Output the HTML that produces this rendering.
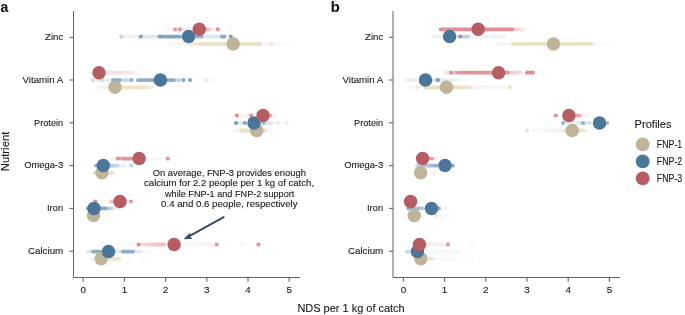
<!DOCTYPE html>
<html><head><meta charset="utf-8"><style>
html,body{margin:0;padding:0;background:#fff;width:685px;height:315px;overflow:hidden}
svg{display:block;will-change:transform}
text{font-family:"Liberation Sans",sans-serif;fill:#161616;stroke:#161616;stroke-width:0.1px}
</style></head><body>
<svg width="685" height="315" viewBox="0 0 685 315">
<defs><linearGradient id="g1" gradientUnits="userSpaceOnUse" x1="187" y1="0" x2="198" y2="0"><stop offset="0" stop-color="#D9C592" stop-opacity="0.3"/><stop offset="1" stop-color="#D9C592" stop-opacity="0.4"/></linearGradient><linearGradient id="g2" gradientUnits="userSpaceOnUse" x1="262" y1="0" x2="272" y2="0"><stop offset="0" stop-color="#BBAAAA" stop-opacity="0.15"/><stop offset="1" stop-color="#BBAAAA" stop-opacity="0.1"/></linearGradient><linearGradient id="g3" gradientUnits="userSpaceOnUse" x1="272" y1="0" x2="300" y2="0"><stop offset="0" stop-color="#BBAAAA" stop-opacity="0.08"/><stop offset="1" stop-color="#BBAAAA" stop-opacity="0"/></linearGradient><linearGradient id="g4" gradientUnits="userSpaceOnUse" x1="195" y1="0" x2="204" y2="0"><stop offset="0" stop-color="#5F8BB2" stop-opacity="0.7"/><stop offset="1" stop-color="#5F8BB2" stop-opacity="0.6"/></linearGradient><linearGradient id="g5" gradientUnits="userSpaceOnUse" x1="233" y1="0" x2="240" y2="0"><stop offset="0" stop-color="#8AB0BC" stop-opacity="0.15"/><stop offset="1" stop-color="#8AB0BC" stop-opacity="0"/></linearGradient><linearGradient id="g6" gradientUnits="userSpaceOnUse" x1="182" y1="0" x2="193" y2="0"><stop offset="0" stop-color="#C99BA0" stop-opacity="0.2"/><stop offset="1" stop-color="#C99BA0" stop-opacity="0.15"/></linearGradient><linearGradient id="g7" gradientUnits="userSpaceOnUse" x1="205" y1="0" x2="215" y2="0"><stop offset="0" stop-color="#DA7178" stop-opacity="0.6"/><stop offset="1" stop-color="#DA7178" stop-opacity="0.05"/></linearGradient><linearGradient id="g8" gradientUnits="userSpaceOnUse" x1="97" y1="0" x2="110" y2="0"><stop offset="0" stop-color="#BBAAAA" stop-opacity="0.12"/><stop offset="1" stop-color="#BBAAAA" stop-opacity="0.15"/></linearGradient><linearGradient id="g9" gradientUnits="userSpaceOnUse" x1="149" y1="0" x2="156" y2="0"><stop offset="0" stop-color="#BBAAAA" stop-opacity="0.3"/><stop offset="1" stop-color="#BBAAAA" stop-opacity="0"/></linearGradient><linearGradient id="g10" gradientUnits="userSpaceOnUse" x1="111" y1="0" x2="122" y2="0"><stop offset="0" stop-color="#5F8BB2" stop-opacity="0.75"/><stop offset="1" stop-color="#5F8BB2" stop-opacity="0.7"/></linearGradient><linearGradient id="g11" gradientUnits="userSpaceOnUse" x1="104" y1="0" x2="133" y2="0"><stop offset="0" stop-color="#C99BA0" stop-opacity="0.3"/><stop offset="1" stop-color="#C99BA0" stop-opacity="0.25"/></linearGradient><linearGradient id="g12" gradientUnits="userSpaceOnUse" x1="132" y1="0" x2="141" y2="0"><stop offset="0" stop-color="#C99BA0" stop-opacity="0.2"/><stop offset="1" stop-color="#C99BA0" stop-opacity="0"/></linearGradient><linearGradient id="g13" gradientUnits="userSpaceOnUse" x1="232" y1="0" x2="238" y2="0"><stop offset="0" stop-color="#BBAAAA" stop-opacity="0.1"/><stop offset="1" stop-color="#BBAAAA" stop-opacity="0.15"/></linearGradient><linearGradient id="g14" gradientUnits="userSpaceOnUse" x1="267" y1="0" x2="278" y2="0"><stop offset="0" stop-color="#BBAAAA" stop-opacity="0.15"/><stop offset="1" stop-color="#BBAAAA" stop-opacity="0"/></linearGradient><linearGradient id="g15" gradientUnits="userSpaceOnUse" x1="264" y1="0" x2="274" y2="0"><stop offset="0" stop-color="#8AB0BC" stop-opacity="0.3"/><stop offset="1" stop-color="#8AB0BC" stop-opacity="0.25"/></linearGradient><linearGradient id="g16" gradientUnits="userSpaceOnUse" x1="271" y1="0" x2="281" y2="0"><stop offset="0" stop-color="#C99BA0" stop-opacity="0.15"/><stop offset="1" stop-color="#C99BA0" stop-opacity="0"/></linearGradient><linearGradient id="g17" gradientUnits="userSpaceOnUse" x1="94" y1="0" x2="120" y2="0"><stop offset="0" stop-color="#5F8BB2" stop-opacity="0.75"/><stop offset="1" stop-color="#5F8BB2" stop-opacity="0.3"/></linearGradient><linearGradient id="g18" gradientUnits="userSpaceOnUse" x1="120" y1="0" x2="127" y2="0"><stop offset="0" stop-color="#8AB0BC" stop-opacity="0.2"/><stop offset="1" stop-color="#8AB0BC" stop-opacity="0.15"/></linearGradient><linearGradient id="g19" gradientUnits="userSpaceOnUse" x1="109" y1="0" x2="117" y2="0"><stop offset="0" stop-color="#C99BA0" stop-opacity="0.1"/><stop offset="1" stop-color="#C99BA0" stop-opacity="0.15"/></linearGradient><linearGradient id="g20" gradientUnits="userSpaceOnUse" x1="86" y1="0" x2="108" y2="0"><stop offset="0" stop-color="#5F8BB2" stop-opacity="0.8"/><stop offset="1" stop-color="#5F8BB2" stop-opacity="0.75"/></linearGradient><linearGradient id="g21" gradientUnits="userSpaceOnUse" x1="108" y1="0" x2="115" y2="0"><stop offset="0" stop-color="#5F8BB2" stop-opacity="0.6"/><stop offset="1" stop-color="#5F8BB2" stop-opacity="0.15"/></linearGradient><linearGradient id="g22" gradientUnits="userSpaceOnUse" x1="100" y1="0" x2="113" y2="0"><stop offset="0" stop-color="#C99BA0" stop-opacity="0.06"/><stop offset="1" stop-color="#C99BA0" stop-opacity="0.15"/></linearGradient><linearGradient id="g23" gradientUnits="userSpaceOnUse" x1="90" y1="0" x2="94" y2="0"><stop offset="0" stop-color="#BBAAAA" stop-opacity="0.15"/><stop offset="1" stop-color="#BBAAAA" stop-opacity="0.2"/></linearGradient><linearGradient id="g24" gradientUnits="userSpaceOnUse" x1="91" y1="0" x2="102" y2="0"><stop offset="0" stop-color="#5F8BB2" stop-opacity="0.7"/><stop offset="1" stop-color="#5F8BB2" stop-opacity="0.75"/></linearGradient><linearGradient id="g25" gradientUnits="userSpaceOnUse" x1="134" y1="0" x2="143" y2="0"><stop offset="0" stop-color="#8AB0BC" stop-opacity="0.3"/><stop offset="1" stop-color="#8AB0BC" stop-opacity="0.2"/></linearGradient><linearGradient id="g26" gradientUnits="userSpaceOnUse" x1="143" y1="0" x2="153" y2="0"><stop offset="0" stop-color="#8AB0BC" stop-opacity="0.1"/><stop offset="1" stop-color="#8AB0BC" stop-opacity="0"/></linearGradient><linearGradient id="g27" gradientUnits="userSpaceOnUse" x1="141" y1="0" x2="166" y2="0"><stop offset="0" stop-color="#DA7178" stop-opacity="0.25"/><stop offset="1" stop-color="#DA7178" stop-opacity="0.5"/></linearGradient><linearGradient id="g28" gradientUnits="userSpaceOnUse" x1="182" y1="0" x2="215" y2="0"><stop offset="0" stop-color="#C99BA0" stop-opacity="0.06"/><stop offset="1" stop-color="#C99BA0" stop-opacity="0.15"/></linearGradient><linearGradient id="g29" gradientUnits="userSpaceOnUse" x1="496" y1="0" x2="510" y2="0"><stop offset="0" stop-color="#BBAAAA" stop-opacity="0.1"/><stop offset="1" stop-color="#BBAAAA" stop-opacity="0.15"/></linearGradient><linearGradient id="g30" gradientUnits="userSpaceOnUse" x1="593" y1="0" x2="615" y2="0"><stop offset="0" stop-color="#BBAAAA" stop-opacity="0.12"/><stop offset="1" stop-color="#BBAAAA" stop-opacity="0"/></linearGradient><linearGradient id="g31" gradientUnits="userSpaceOnUse" x1="462" y1="0" x2="470" y2="0"><stop offset="0" stop-color="#5F8BB2" stop-opacity="0.35"/><stop offset="1" stop-color="#5F8BB2" stop-opacity="0.3"/></linearGradient><linearGradient id="g32" gradientUnits="userSpaceOnUse" x1="514" y1="0" x2="529" y2="0"><stop offset="0" stop-color="#DA7178" stop-opacity="0.4"/><stop offset="1" stop-color="#DA7178" stop-opacity="0"/></linearGradient><linearGradient id="g33" gradientUnits="userSpaceOnUse" x1="423.5" y1="0" x2="471.5" y2="0"><stop offset="0" stop-color="#D9C592" stop-opacity="0.55"/><stop offset="1" stop-color="#D9C592" stop-opacity="0.5"/></linearGradient><linearGradient id="g34" gradientUnits="userSpaceOnUse" x1="471.5" y1="0" x2="506" y2="0"><stop offset="0" stop-color="#BBAAAA" stop-opacity="0.15"/><stop offset="1" stop-color="#BBAAAA" stop-opacity="0.1"/></linearGradient><linearGradient id="g35" gradientUnits="userSpaceOnUse" x1="432" y1="0" x2="459" y2="0"><stop offset="0" stop-color="#8AB0BC" stop-opacity="0.3"/><stop offset="1" stop-color="#8AB0BC" stop-opacity="0.15"/></linearGradient><linearGradient id="g36" gradientUnits="userSpaceOnUse" x1="459" y1="0" x2="474" y2="0"><stop offset="0" stop-color="#8AB0BC" stop-opacity="0.08"/><stop offset="1" stop-color="#8AB0BC" stop-opacity="0"/></linearGradient><linearGradient id="g37" gradientUnits="userSpaceOnUse" x1="452" y1="0" x2="458" y2="0"><stop offset="0" stop-color="#DA7178" stop-opacity="0.3"/><stop offset="1" stop-color="#DA7178" stop-opacity="0.75"/></linearGradient><linearGradient id="g38" gradientUnits="userSpaceOnUse" x1="510" y1="0" x2="523" y2="0"><stop offset="0" stop-color="#DA7178" stop-opacity="0.4"/><stop offset="1" stop-color="#DA7178" stop-opacity="0.2"/></linearGradient><linearGradient id="g39" gradientUnits="userSpaceOnUse" x1="532" y1="0" x2="563" y2="0"><stop offset="0" stop-color="#BBAAAA" stop-opacity="0.08"/><stop offset="1" stop-color="#BBAAAA" stop-opacity="0.15"/></linearGradient><linearGradient id="g40" gradientUnits="userSpaceOnUse" x1="586" y1="0" x2="590" y2="0"><stop offset="0" stop-color="#BBAAAA" stop-opacity="0.2"/><stop offset="1" stop-color="#BBAAAA" stop-opacity="0"/></linearGradient><linearGradient id="g41" gradientUnits="userSpaceOnUse" x1="563" y1="0" x2="590" y2="0"><stop offset="0" stop-color="#8AB0BC" stop-opacity="0.2"/><stop offset="1" stop-color="#8AB0BC" stop-opacity="0.25"/></linearGradient><linearGradient id="g42" gradientUnits="userSpaceOnUse" x1="575" y1="0" x2="581.5" y2="0"><stop offset="0" stop-color="#DA7178" stop-opacity="0.7"/><stop offset="1" stop-color="#DA7178" stop-opacity="0.6"/></linearGradient><linearGradient id="g43" gradientUnits="userSpaceOnUse" x1="581.5" y1="0" x2="592" y2="0"><stop offset="0" stop-color="#C99BA0" stop-opacity="0.2"/><stop offset="1" stop-color="#C99BA0" stop-opacity="0"/></linearGradient><linearGradient id="g44" gradientUnits="userSpaceOnUse" x1="451" y1="0" x2="460" y2="0"><stop offset="0" stop-color="#BBAAAA" stop-opacity="0.07"/><stop offset="1" stop-color="#BBAAAA" stop-opacity="0.05"/></linearGradient><linearGradient id="g45" gradientUnits="userSpaceOnUse" x1="415" y1="0" x2="439" y2="0"><stop offset="0" stop-color="#5F8BB2" stop-opacity="0.35"/><stop offset="1" stop-color="#5F8BB2" stop-opacity="0.7"/></linearGradient><linearGradient id="g46" gradientUnits="userSpaceOnUse" x1="429" y1="0" x2="434.4" y2="0"><stop offset="0" stop-color="#DA7178" stop-opacity="0.75"/><stop offset="1" stop-color="#DA7178" stop-opacity="0.6"/></linearGradient><linearGradient id="g47" gradientUnits="userSpaceOnUse" x1="434.4" y1="0" x2="440" y2="0"><stop offset="0" stop-color="#C99BA0" stop-opacity="0.25"/><stop offset="1" stop-color="#C99BA0" stop-opacity="0"/></linearGradient><linearGradient id="g48" gradientUnits="userSpaceOnUse" x1="421" y1="0" x2="428" y2="0"><stop offset="0" stop-color="#BBAAAA" stop-opacity="0.12"/><stop offset="1" stop-color="#BBAAAA" stop-opacity="0.1"/></linearGradient><linearGradient id="g49" gradientUnits="userSpaceOnUse" x1="439" y1="0" x2="452" y2="0"><stop offset="0" stop-color="#BBAAAA" stop-opacity="0.08"/><stop offset="1" stop-color="#BBAAAA" stop-opacity="0.05"/></linearGradient><linearGradient id="g50" gradientUnits="userSpaceOnUse" x1="406.4" y1="0" x2="424.8" y2="0"><stop offset="0" stop-color="#5F8BB2" stop-opacity="0.75"/><stop offset="1" stop-color="#5F8BB2" stop-opacity="0.4"/></linearGradient><linearGradient id="g51" gradientUnits="userSpaceOnUse" x1="417" y1="0" x2="428" y2="0"><stop offset="0" stop-color="#C99BA0" stop-opacity="0.15"/><stop offset="1" stop-color="#C99BA0" stop-opacity="0.05"/></linearGradient><linearGradient id="g52" gradientUnits="userSpaceOnUse" x1="427.8" y1="0" x2="435" y2="0"><stop offset="0" stop-color="#D9C592" stop-opacity="0.45"/><stop offset="1" stop-color="#D9C592" stop-opacity="0.4"/></linearGradient><linearGradient id="g53" gradientUnits="userSpaceOnUse" x1="435" y1="0" x2="475" y2="0"><stop offset="0" stop-color="#BBAAAA" stop-opacity="0.08"/><stop offset="1" stop-color="#BBAAAA" stop-opacity="0.05"/></linearGradient><linearGradient id="g54" gradientUnits="userSpaceOnUse" x1="425.5" y1="0" x2="461" y2="0"><stop offset="0" stop-color="#8AB0BC" stop-opacity="0.1"/><stop offset="1" stop-color="#8AB0BC" stop-opacity="0.08"/></linearGradient><linearGradient id="g55" gradientUnits="userSpaceOnUse" x1="426" y1="0" x2="446" y2="0"><stop offset="0" stop-color="#C99BA0" stop-opacity="0.2"/><stop offset="1" stop-color="#C99BA0" stop-opacity="0.15"/></linearGradient></defs>
<rect x="167" y="42.00" width="20.00" height="3.8" rx="1.9" fill="#BBAAAA" fill-opacity="0.1"/><rect x="187" y="42.00" width="11.00" height="3.8" rx="1.9" fill="url(#g1)"/><rect x="198" y="42.00" width="64.00" height="3.8" rx="1.9" fill="#D9C592" fill-opacity="0.55"/><rect x="262" y="42.00" width="10.00" height="3.8" rx="1.9" fill="url(#g2)"/><circle cx="271.8" cy="43.9" r="2.1" fill="#BBAAAA" fill-opacity="0.2"/><rect x="272" y="42.00" width="28.00" height="3.8" rx="1.9" fill="url(#g3)"/><circle cx="121.2" cy="36.6" r="2.1" fill="#5F8BB2" fill-opacity="0.35"/><rect x="121" y="34.70" width="19.00" height="3.8" rx="1.9" fill="#8AB0BC" fill-opacity="0.15"/><circle cx="140.7" cy="36.6" r="2.1" fill="#5F8BB2" fill-opacity="0.8"/><rect x="141" y="34.70" width="18.00" height="3.8" rx="1.9" fill="#8AB0BC" fill-opacity="0.3"/><circle cx="159.7" cy="36.6" r="2.1" fill="#5F8BB2" fill-opacity="0.8"/><rect x="160" y="34.70" width="22.00" height="3.8" rx="1.9" fill="#5F8BB2" fill-opacity="0.75"/><rect x="195" y="34.70" width="9.00" height="3.8" rx="1.9" fill="url(#g4)"/><rect x="204" y="34.70" width="15.00" height="3.8" rx="1.9" fill="#8AB0BC" fill-opacity="0.3"/><rect x="219.6" y="34.70" width="7.00" height="3.8" rx="1.9" fill="#5F8BB2" fill-opacity="0.7"/><circle cx="230.7" cy="36.6" r="2.1" fill="#5F8BB2" fill-opacity="0.8"/><rect x="233" y="34.70" width="7.00" height="3.8" rx="1.9" fill="url(#g5)"/><rect x="164" y="27.40" width="9.00" height="3.8" rx="1.9" fill="#C99BA0" fill-opacity="0.1"/><circle cx="175.2" cy="29.3" r="2.1" fill="#DA7178" fill-opacity="0.75"/><circle cx="180" cy="29.3" r="2.1" fill="#DA7178" fill-opacity="0.75"/><rect x="182" y="27.40" width="11.00" height="3.8" rx="1.9" fill="url(#g6)"/><rect x="205" y="27.40" width="10.00" height="3.8" rx="1.9" fill="url(#g7)"/><circle cx="217.8" cy="29.3" r="2.1" fill="#DA7178" fill-opacity="0.75"/><circle cx="230" cy="29.3" r="2.1" fill="#C99BA0" fill-opacity="0.1"/><rect x="97" y="85.40" width="13.00" height="3.8" rx="1.9" fill="url(#g8)"/><rect x="121" y="85.40" width="28.00" height="3.8" rx="1.9" fill="#D9C592" fill-opacity="0.5"/><rect x="149" y="85.40" width="7.00" height="3.8" rx="1.9" fill="url(#g9)"/><rect x="92" y="78.20" width="19.00" height="3.8" rx="1.9" fill="#8AB0BC" fill-opacity="0.2"/><circle cx="92.5" cy="80.1" r="2.1" fill="#8AB0BC" fill-opacity="0.3"/><circle cx="102.4" cy="80.1" r="2.1" fill="#8AB0BC" fill-opacity="0.3"/><rect x="111" y="78.20" width="11.00" height="3.8" rx="1.9" fill="url(#g10)"/><rect x="122" y="78.20" width="8.00" height="3.8" rx="1.9" fill="#5F8BB2" fill-opacity="0.35"/><circle cx="131.5" cy="80.1" r="2.1" fill="#5F8BB2" fill-opacity="0.7"/><rect x="136" y="78.20" width="40.00" height="3.8" rx="1.9" fill="#5F8BB2" fill-opacity="0.7"/><rect x="176" y="78.20" width="5.00" height="3.8" rx="1.9" fill="#5F8BB2" fill-opacity="0.4"/><circle cx="183.4" cy="80.1" r="2.1" fill="#5F8BB2" fill-opacity="0.75"/><circle cx="190" cy="80.1" r="2.1" fill="#5F8BB2" fill-opacity="0.75"/><circle cx="206.4" cy="80.1" r="2.1" fill="#8AB0BC" fill-opacity="0.2"/><circle cx="213.4" cy="80.1" r="2.1" fill="#8AB0BC" fill-opacity="0.1"/><rect x="104" y="70.80" width="29.00" height="3.8" rx="1.9" fill="url(#g11)"/><rect x="132" y="70.80" width="9.00" height="3.8" rx="1.9" fill="url(#g12)"/><rect x="232" y="128.60" width="6.00" height="3.8" rx="1.9" fill="url(#g13)"/><rect x="238.4" y="128.60" width="28.60" height="3.8" rx="1.9" fill="#D9C592" fill-opacity="0.5"/><rect x="267" y="128.60" width="11.00" height="3.8" rx="1.9" fill="url(#g14)"/><circle cx="236.1" cy="123.0" r="2.1" fill="#5F8BB2" fill-opacity="0.85"/><circle cx="240.7" cy="123.0" r="2.1" fill="#8AB0BC" fill-opacity="0.3"/><circle cx="244.8" cy="123.0" r="2.1" fill="#5F8BB2" fill-opacity="0.8"/><circle cx="263.2" cy="123.0" r="2.1" fill="#5F8BB2" fill-opacity="0.6"/><rect x="264" y="121.10" width="10.00" height="3.8" rx="1.9" fill="url(#g15)"/><circle cx="277.8" cy="123.0" r="2.1" fill="#8AB0BC" fill-opacity="0.3"/><circle cx="287" cy="123.0" r="2.1" fill="#8AB0BC" fill-opacity="0.2"/><circle cx="236.9" cy="115.6" r="2.1" fill="#DA7178" fill-opacity="0.8"/><rect x="238" y="113.70" width="12.00" height="3.8" rx="1.9" fill="#C99BA0" fill-opacity="0.1"/><circle cx="251.1" cy="115.6" r="2.1" fill="#DA7178" fill-opacity="0.8"/><circle cx="270.2" cy="115.6" r="2.1" fill="#DA7178" fill-opacity="0.6"/><rect x="271" y="113.70" width="10.00" height="3.8" rx="1.9" fill="url(#g16)"/><rect x="92.7" y="170.90" width="21.60" height="3.8" rx="1.9" fill="#D9C592" fill-opacity="0.5"/><rect x="94" y="163.70" width="26.00" height="3.8" rx="1.9" fill="url(#g17)"/><rect x="120" y="163.70" width="7.00" height="3.8" rx="1.9" fill="url(#g18)"/><circle cx="131.2" cy="165.6" r="2.1" fill="#5F8BB2" fill-opacity="0.35"/><rect x="109" y="156.70" width="8.00" height="3.8" rx="1.9" fill="url(#g19)"/><circle cx="118" cy="158.6" r="2.1" fill="#DA7178" fill-opacity="0.8"/><rect x="120" y="156.70" width="13.00" height="3.8" rx="1.9" fill="#DA7178" fill-opacity="0.75"/><rect x="150" y="156.70" width="12.00" height="3.8" rx="1.9" fill="#C99BA0" fill-opacity="0.1"/><circle cx="167.8" cy="158.6" r="2.1" fill="#DA7178" fill-opacity="0.75"/><circle cx="107.2" cy="215.6" r="2.1" fill="#BBAAAA" fill-opacity="0.1"/><rect x="86" y="206.50" width="22.00" height="3.8" rx="1.9" fill="url(#g20)"/><rect x="108" y="206.50" width="7.00" height="3.8" rx="1.9" fill="url(#g21)"/><circle cx="117.7" cy="208.4" r="2.1" fill="#8AB0BC" fill-opacity="0.2"/><circle cx="95.4" cy="201.5" r="2.1" fill="#DA7178" fill-opacity="0.8"/><rect x="100" y="199.60" width="13.00" height="3.8" rx="1.9" fill="url(#g22)"/><circle cx="111.8" cy="201.5" r="2.1" fill="#DA7178" fill-opacity="0.4"/><circle cx="130.8" cy="201.5" r="2.1" fill="#DA7178" fill-opacity="0.7"/><rect x="90" y="256.90" width="4.00" height="3.8" rx="1.9" fill="url(#g23)"/><rect x="108" y="256.90" width="13.60" height="3.8" rx="1.9" fill="#D9C592" fill-opacity="0.5"/><circle cx="129.6" cy="258.8" r="2.1" fill="#BBAAAA" fill-opacity="0.1"/><circle cx="143.5" cy="258.8" r="2.1" fill="#BBAAAA" fill-opacity="0.1"/><rect x="85.8" y="249.70" width="6.20" height="3.8" rx="1.9" fill="#8AB0BC" fill-opacity="0.3"/><rect x="91" y="249.70" width="11.00" height="3.8" rx="1.9" fill="url(#g24)"/><rect x="114" y="249.70" width="9.00" height="3.8" rx="1.9" fill="#8AB0BC" fill-opacity="0.3"/><rect x="121" y="249.70" width="14.00" height="3.8" rx="1.9" fill="#5F8BB2" fill-opacity="0.7"/><rect x="134" y="249.70" width="9.00" height="3.8" rx="1.9" fill="url(#g25)"/><rect x="143" y="249.70" width="10.00" height="3.8" rx="1.9" fill="url(#g26)"/><rect x="128" y="242.60" width="8.00" height="3.8" rx="1.9" fill="#C99BA0" fill-opacity="0.1"/><circle cx="138.7" cy="244.5" r="2.1" fill="#DA7178" fill-opacity="0.8"/><rect x="141" y="242.60" width="25.00" height="3.8" rx="1.9" fill="url(#g27)"/><rect x="182" y="242.60" width="33.00" height="3.8" rx="1.9" fill="url(#g28)"/><circle cx="216.8" cy="244.5" r="2.1" fill="#DA7178" fill-opacity="0.75"/><circle cx="242" cy="244.5" r="2.1" fill="#C99BA0" fill-opacity="0.1"/><circle cx="258.4" cy="244.5" r="2.1" fill="#DA7178" fill-opacity="0.75"/><rect x="496" y="42.00" width="14.00" height="3.8" rx="1.9" fill="url(#g29)"/><rect x="510.7" y="42.00" width="82.70" height="3.8" rx="1.9" fill="#D9C592" fill-opacity="0.55"/><rect x="593" y="42.00" width="22.00" height="3.8" rx="1.9" fill="url(#g30)"/><rect x="430.7" y="34.70" width="75.30" height="3.8" rx="1.9" fill="#8AB0BC" fill-opacity="0.15"/><circle cx="460.3" cy="36.6" r="2.1" fill="#5F8BB2" fill-opacity="0.8"/><rect x="462" y="34.70" width="8.00" height="3.8" rx="1.9" fill="url(#g31)"/><rect x="438.8" y="27.40" width="75.60" height="3.8" rx="1.9" fill="#DA7178" fill-opacity="0.8"/><rect x="514" y="27.40" width="15.00" height="3.8" rx="1.9" fill="url(#g32)"/><rect x="408" y="85.40" width="9.00" height="3.8" rx="1.9" fill="#BBAAAA" fill-opacity="0.1"/><circle cx="417.4" cy="87.3" r="2.1" fill="#BBAAAA" fill-opacity="0.25"/><rect x="423.5" y="85.40" width="48.00" height="3.8" rx="1.9" fill="url(#g33)"/><rect x="471.5" y="85.40" width="34.50" height="3.8" rx="1.9" fill="url(#g34)"/><circle cx="509.7" cy="87.3" r="2.1" fill="#D9C592" fill-opacity="0.5"/><rect x="405" y="78.20" width="13.00" height="3.8" rx="1.9" fill="#8AB0BC" fill-opacity="0.2"/><rect x="432" y="78.20" width="27.00" height="3.8" rx="1.9" fill="url(#g35)"/><rect x="459" y="78.20" width="15.00" height="3.8" rx="1.9" fill="url(#g36)"/><circle cx="437.8" cy="80.1" r="2.1" fill="#5F8BB2" fill-opacity="0.8"/><circle cx="446.6" cy="72.7" r="2.1" fill="#C99BA0" fill-opacity="0.3"/><circle cx="451" cy="72.7" r="2.1" fill="#DA7178" fill-opacity="0.8"/><rect x="452" y="70.80" width="6.00" height="3.8" rx="1.9" fill="url(#g37)"/><rect x="457" y="70.80" width="53.00" height="3.8" rx="1.9" fill="#DA7178" fill-opacity="0.75"/><rect x="510" y="70.80" width="13.00" height="3.8" rx="1.9" fill="url(#g38)"/><rect x="525" y="70.80" width="10.00" height="3.8" rx="1.9" fill="#DA7178" fill-opacity="0.8"/><circle cx="526.9" cy="130.5" r="2.1" fill="#D9C592" fill-opacity="0.5"/><rect x="532" y="128.60" width="31.00" height="3.8" rx="1.9" fill="url(#g39)"/><rect x="563" y="128.60" width="23.00" height="3.8" rx="1.9" fill="#D9C592" fill-opacity="0.45"/><rect x="586" y="128.60" width="4.00" height="3.8" rx="1.9" fill="url(#g40)"/><rect x="563" y="121.10" width="27.00" height="3.8" rx="1.9" fill="url(#g41)"/><circle cx="563" cy="123.0" r="2.1" fill="#5F8BB2" fill-opacity="0.6"/><circle cx="583" cy="123.0" r="2.1" fill="#5F8BB2" fill-opacity="0.6"/><circle cx="590.3" cy="123.0" r="2.1" fill="#8AB0BC" fill-opacity="0.3"/><circle cx="607.2" cy="123.0" r="2.1" fill="#5F8BB2" fill-opacity="0.6"/><circle cx="555.8" cy="115.6" r="2.1" fill="#DA7178" fill-opacity="0.75"/><rect x="575" y="113.70" width="6.50" height="3.8" rx="1.9" fill="url(#g42)"/><rect x="581.5" y="113.70" width="10.50" height="3.8" rx="1.9" fill="url(#g43)"/><rect x="428" y="170.90" width="11.00" height="3.8" rx="1.9" fill="#BBAAAA" fill-opacity="0.1"/><rect x="451" y="170.90" width="9.00" height="3.8" rx="1.9" fill="url(#g44)"/><rect x="415" y="163.70" width="24.00" height="3.8" rx="1.9" fill="url(#g45)"/><circle cx="452.8" cy="165.6" r="2.1" fill="#5F8BB2" fill-opacity="0.7"/><rect x="429" y="156.70" width="5.40" height="3.8" rx="1.9" fill="url(#g46)"/><rect x="434.4" y="156.70" width="5.60" height="3.8" rx="1.9" fill="url(#g47)"/><rect x="421" y="213.70" width="7.00" height="3.8" rx="1.9" fill="url(#g48)"/><circle cx="435.6" cy="215.6" r="2.1" fill="#D9C592" fill-opacity="0.4"/><rect x="439" y="213.70" width="13.00" height="3.8" rx="1.9" fill="url(#g49)"/><rect x="406.4" y="206.50" width="18.40" height="3.8" rx="1.9" fill="url(#g50)"/><circle cx="438.8" cy="208.4" r="2.1" fill="#5F8BB2" fill-opacity="0.7"/><circle cx="445.8" cy="208.4" r="2.1" fill="#8AB0BC" fill-opacity="0.15"/><rect x="417" y="199.60" width="11.00" height="3.8" rx="1.9" fill="url(#g51)"/><rect x="427.8" y="256.90" width="7.20" height="3.8" rx="1.9" fill="url(#g52)"/><rect x="435" y="256.90" width="40.00" height="3.8" rx="1.9" fill="url(#g53)"/><rect x="405" y="249.70" width="6.00" height="3.8" rx="1.9" fill="#5F8BB2" fill-opacity="0.35"/><rect x="425.5" y="249.70" width="35.50" height="3.8" rx="1.9" fill="url(#g54)"/><rect x="426" y="242.60" width="20.00" height="3.8" rx="1.9" fill="url(#g55)"/><circle cx="448" cy="244.5" r="2.1" fill="#DA7178" fill-opacity="0.75"/><circle cx="472.5" cy="244.5" r="2.1" fill="#C99BA0" fill-opacity="0.1"/><circle cx="233.2" cy="43.9" r="6.75" fill="#BFB497"/><circle cx="188.6" cy="36.6" r="6.75" fill="#4B7599"/><circle cx="199.3" cy="29.3" r="6.75" fill="#B65C63"/><circle cx="115" cy="87.3" r="6.75" fill="#BFB497"/><circle cx="160.4" cy="80.1" r="6.75" fill="#4B7599"/><circle cx="99" cy="72.7" r="6.75" fill="#B65C63"/><circle cx="256.7" cy="130.5" r="6.75" fill="#BFB497"/><circle cx="254" cy="123.0" r="6.75" fill="#4B7599"/><circle cx="263" cy="115.6" r="6.75" fill="#B65C63"/><circle cx="101.9" cy="172.8" r="6.75" fill="#BFB497"/><circle cx="103.3" cy="165.6" r="6.75" fill="#4B7599"/><circle cx="139.1" cy="158.6" r="6.75" fill="#B65C63"/><circle cx="93.5" cy="215.6" r="6.75" fill="#BFB497"/><circle cx="94" cy="208.4" r="6.75" fill="#4B7599"/><circle cx="120" cy="201.5" r="6.75" fill="#B65C63"/><circle cx="101.2" cy="258.8" r="6.75" fill="#BFB497"/><circle cx="108.5" cy="251.6" r="6.75" fill="#4B7599"/><circle cx="174.1" cy="244.5" r="6.75" fill="#B65C63"/><circle cx="553.5" cy="43.9" r="6.75" fill="#BFB497"/><circle cx="449.6" cy="36.6" r="6.75" fill="#4B7599"/><circle cx="478.2" cy="29.3" r="6.75" fill="#B65C63"/><circle cx="446.5" cy="87.3" r="6.75" fill="#BFB497"/><circle cx="425.5" cy="80.1" r="6.75" fill="#4B7599"/><circle cx="498.6" cy="72.7" r="6.75" fill="#B65C63"/><circle cx="572.2" cy="130.5" r="6.75" fill="#BFB497"/><circle cx="599.5" cy="123.0" r="6.75" fill="#4B7599"/><circle cx="568.9" cy="115.6" r="6.75" fill="#B65C63"/><circle cx="420.6" cy="172.8" r="6.75" fill="#BFB497"/><circle cx="445" cy="165.6" r="6.75" fill="#4B7599"/><circle cx="422.6" cy="158.6" r="6.75" fill="#B65C63"/><circle cx="414.2" cy="215.6" r="6.75" fill="#BFB497"/><circle cx="431.5" cy="208.4" r="6.75" fill="#4B7599"/><circle cx="410.6" cy="201.5" r="6.75" fill="#B65C63"/><circle cx="420.9" cy="258.8" r="6.75" fill="#BFB497"/><circle cx="417.4" cy="251.6" r="6.75" fill="#4B7599"/><circle cx="419.5" cy="244.5" r="6.75" fill="#B65C63"/>
<path d="M73.5 11V277.5H300" fill="none" stroke="#626262" stroke-width="1.0"/><path d="M69.5 37.3H73.5" stroke="#626262" stroke-width="1.1"/><text x="45.0" y="40.1" font-size="9.8" textLength="18.2" lengthAdjust="spacingAndGlyphs">Zinc</text><path d="M69.5 80.0H73.5" stroke="#626262" stroke-width="1.1"/><text x="22.6" y="82.8" font-size="9.8" textLength="40.6" lengthAdjust="spacingAndGlyphs">Vitamin A</text><path d="M69.5 122.8H73.5" stroke="#626262" stroke-width="1.1"/><text x="34.0" y="125.6" font-size="9.8" textLength="29.2" lengthAdjust="spacingAndGlyphs">Protein</text><path d="M69.5 165.6H73.5" stroke="#626262" stroke-width="1.1"/><text x="24.2" y="168.4" font-size="9.8" textLength="39.0" lengthAdjust="spacingAndGlyphs">Omega-3</text><path d="M69.5 208.4H73.5" stroke="#626262" stroke-width="1.1"/><text x="47.0" y="211.2" font-size="9.8" textLength="16.2" lengthAdjust="spacingAndGlyphs">Iron</text><path d="M69.5 251.2H73.5" stroke="#626262" stroke-width="1.1"/><text x="28.0" y="254.0" font-size="9.8" textLength="35.2" lengthAdjust="spacingAndGlyphs">Calcium</text><path d="M83.2 277.5V281.7" stroke="#626262" stroke-width="1.1"/><text x="83.2" y="293.2" text-anchor="middle" font-size="9.9">0</text><path d="M124.4 277.5V281.7" stroke="#626262" stroke-width="1.1"/><text x="124.4" y="293.2" text-anchor="middle" font-size="9.9">1</text><path d="M165.6 277.5V281.7" stroke="#626262" stroke-width="1.1"/><text x="165.6" y="293.2" text-anchor="middle" font-size="9.9">2</text><path d="M206.8 277.5V281.7" stroke="#626262" stroke-width="1.1"/><text x="206.8" y="293.2" text-anchor="middle" font-size="9.9">3</text><path d="M248.0 277.5V281.7" stroke="#626262" stroke-width="1.1"/><text x="248.0" y="293.2" text-anchor="middle" font-size="9.9">4</text><path d="M289.2 277.5V281.7" stroke="#626262" stroke-width="1.1"/><text x="289.2" y="293.2" text-anchor="middle" font-size="9.9">5</text><path d="M393.0 11V277.5H620" fill="none" stroke="#626262" stroke-width="1.0"/><path d="M389.0 37.3H393.0" stroke="#626262" stroke-width="1.1"/><text x="365.0" y="40.1" font-size="9.8" textLength="18.2" lengthAdjust="spacingAndGlyphs">Zinc</text><path d="M389.0 80.0H393.0" stroke="#626262" stroke-width="1.1"/><text x="342.6" y="82.8" font-size="9.8" textLength="40.6" lengthAdjust="spacingAndGlyphs">Vitamin A</text><path d="M389.0 122.8H393.0" stroke="#626262" stroke-width="1.1"/><text x="354.0" y="125.6" font-size="9.8" textLength="29.2" lengthAdjust="spacingAndGlyphs">Protein</text><path d="M389.0 165.6H393.0" stroke="#626262" stroke-width="1.1"/><text x="344.2" y="168.4" font-size="9.8" textLength="39.0" lengthAdjust="spacingAndGlyphs">Omega-3</text><path d="M389.0 208.4H393.0" stroke="#626262" stroke-width="1.1"/><text x="367.0" y="211.2" font-size="9.8" textLength="16.2" lengthAdjust="spacingAndGlyphs">Iron</text><path d="M389.0 251.2H393.0" stroke="#626262" stroke-width="1.1"/><text x="348.0" y="254.0" font-size="9.8" textLength="35.2" lengthAdjust="spacingAndGlyphs">Calcium</text><path d="M403.4 277.5V281.7" stroke="#626262" stroke-width="1.1"/><text x="403.4" y="293.2" text-anchor="middle" font-size="9.9">0</text><path d="M444.6 277.5V281.7" stroke="#626262" stroke-width="1.1"/><text x="444.6" y="293.2" text-anchor="middle" font-size="9.9">1</text><path d="M485.8 277.5V281.7" stroke="#626262" stroke-width="1.1"/><text x="485.8" y="293.2" text-anchor="middle" font-size="9.9">2</text><path d="M527.0 277.5V281.7" stroke="#626262" stroke-width="1.1"/><text x="527.0" y="293.2" text-anchor="middle" font-size="9.9">3</text><path d="M568.2 277.5V281.7" stroke="#626262" stroke-width="1.1"/><text x="568.2" y="293.2" text-anchor="middle" font-size="9.9">4</text><path d="M609.4 277.5V281.7" stroke="#626262" stroke-width="1.1"/><text x="609.4" y="293.2" text-anchor="middle" font-size="9.9">5</text>

<text x="0.4" y="11.5" font-size="14" font-weight="bold" fill="#000" stroke="#000" stroke-width="0.8">a</text>
<text x="330.8" y="11.6" font-size="14" font-weight="bold" fill="#000" stroke="#000" stroke-width="0.6" textLength="9" lengthAdjust="spacingAndGlyphs">b</text>
<text x="297.4" y="312.4" font-size="11" textLength="107.3" lengthAdjust="spacingAndGlyphs">NDS per 1 kg of catch</text>
<text transform="translate(8.7,171.3) rotate(-90)" x="0" y="0" font-size="10.3" textLength="39.7" lengthAdjust="spacingAndGlyphs">Nutrient</text>
<text x="634.6" y="128.3" font-size="11.5" textLength="36.9" lengthAdjust="spacingAndGlyphs">Profiles</text>
<circle cx="642.7" cy="144.3" r="6.9" fill="#BFB497"/>
<circle cx="642.7" cy="161.4" r="6.9" fill="#4B7599"/>
<circle cx="642.7" cy="178.4" r="6.9" fill="#B65C63"/>
<text x="656.8" y="148.3" font-size="10.5" textLength="25.4" lengthAdjust="spacingAndGlyphs">FNP-1</text>
<text x="656.8" y="165.4" font-size="10.5" textLength="25.4" lengthAdjust="spacingAndGlyphs">FNP-2</text>
<text x="656.8" y="182.4" font-size="10.5" textLength="25.4" lengthAdjust="spacingAndGlyphs">FNP-3</text>
<g font-size="9.5">
<text x="152.7" y="175.5" textLength="153.2" lengthAdjust="spacingAndGlyphs">On average, FNP-3 provides enough</text>
<text x="144.0" y="186.0" textLength="170.1" lengthAdjust="spacingAndGlyphs">calcium for 2.2 people per 1 kg of catch,</text>
<text x="165.0" y="196.7" textLength="129.3" lengthAdjust="spacingAndGlyphs">while FNP-1 and FNP-2 support</text>
<text x="161.1" y="207.2" textLength="136.4" lengthAdjust="spacingAndGlyphs">0.4 and 0.6 people, respectively</text>
</g>
<path d="M223.7 217.1L187.5 237.2" stroke="#364865" stroke-width="1.9" fill="none" stroke-linecap="round"/>
<path d="M184.3 238.9L189.9 233.3L188.9 236.6L191.9 238.4Z" fill="#364865" stroke="#364865" stroke-width="0.7" stroke-linejoin="round"/>

</svg></body></html>
